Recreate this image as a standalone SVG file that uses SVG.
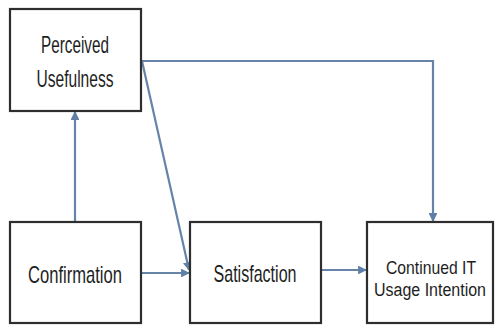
<svg xmlns="http://www.w3.org/2000/svg" width="497" height="325" viewBox="0 0 497 325">
<style>
.box{fill:#fff;stroke:#2e2e2e;stroke-width:2.2}
.lbl{font-family:"Liberation Sans",Arial,sans-serif;font-size:24px;fill:#1e1e1e;text-anchor:middle}
.sm{font-size:19px}
.xs{font-size:18px}
.con{fill:none;stroke:#6683a8;stroke-width:2.2}
</style>
<defs>
<marker id="ah" viewBox="0 0 10 10" refX="9" refY="5" markerWidth="4" markerHeight="4" orient="auto" markerUnits="strokeWidth">
<path d="M0,0 L10,5 L0,10 z" fill="#5f7fa6"/>
</marker>
</defs>
<rect width="497" height="325" fill="#fff"/>
<g id="connectors">
<line class="con" x1="75" y1="222" x2="75" y2="112" marker-end="url(#ah)"/>
<line class="con" x1="141" y1="273" x2="189" y2="273" marker-end="url(#ah)"/>
<line class="con" x1="321" y1="270" x2="366" y2="270" marker-end="url(#ah)"/>
<polyline class="con" points="141,61 433,61 433,221" marker-end="url(#ah)"/>
<line class="con" x1="142" y1="61" x2="189" y2="270" marker-end="url(#ah)"/>
</g>
<g id="perceived-usefulness">
<rect class="box" x="10" y="9" width="131" height="102"/>
<text class="lbl" x="75" y="53" textLength="68" lengthAdjust="spacingAndGlyphs">Perceived</text>
<text class="lbl" x="75" y="87" textLength="77" lengthAdjust="spacingAndGlyphs">Usefulness</text>
</g>
<g id="confirmation">
<rect class="box" x="10" y="222" width="131" height="101"/>
<text class="lbl" x="75" y="283" textLength="94" lengthAdjust="spacingAndGlyphs">Confirmation</text>
</g>
<g id="satisfaction">
<rect class="box" x="190" y="222" width="131" height="101"/>
<text class="lbl" x="255" y="282" textLength="83" lengthAdjust="spacingAndGlyphs">Satisfaction</text>
</g>
<g id="continued-it-usage-intention">
<rect class="box" x="367" y="222" width="126" height="101"/>
<text class="lbl sm" x="431" y="274" textLength="90" lengthAdjust="spacingAndGlyphs">Continued IT</text>
<text class="lbl xs" x="430" y="296" textLength="112" lengthAdjust="spacingAndGlyphs">Usage Intention</text>
</g>
</svg>
